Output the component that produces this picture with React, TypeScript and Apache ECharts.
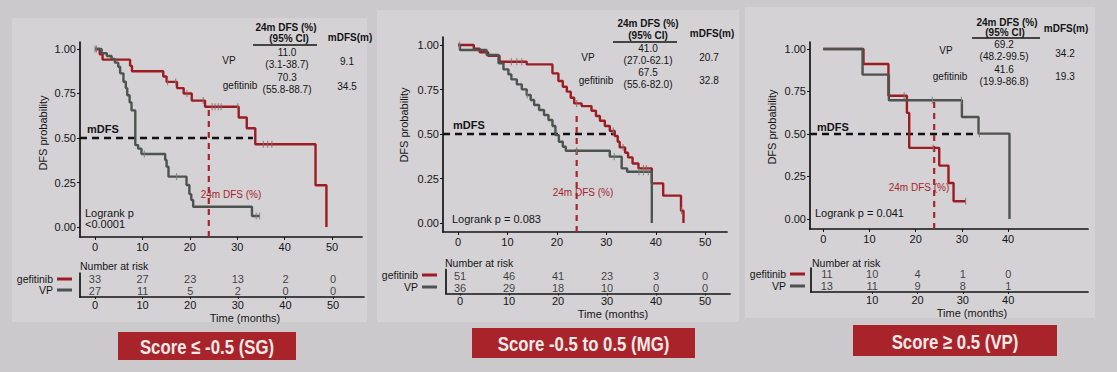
import React, { useEffect, useRef } from "react";
import * as echarts from "echarts";

const FONT = "'Liberation Sans', Arial, sans-serif";
const RED = "#9c1c22";
const GRAY = "#4d534e";
const INK = "#151515";

// ---------- Score <= -0.5 (SG)
const sgGefTimes = [0, 1.0, 1.6, 7.4, 7.8, 14.4, 15.1, 17.3, 18.7, 20.4, 23.2, 30.3, 32.0, 33.8, 46.5, 48.8];
const sgGefSurv = [1, 0.97, 0.94, 0.905, 0.875, 0.845, 0.815, 0.78, 0.75, 0.71, 0.675, 0.615, 0.555, 0.465, 0.235, 0];
const sgGefCensor = [0.3, 15.3, 17.0, 19.4, 22.8, 24.7, 25.3, 26.0, 26.6, 30.1, 35.5, 36.4, 37.3];
const sgVpTimes = [0, 1.4, 2.5, 3.5, 4.2, 4.9, 5.3, 6.0, 6.5, 6.8, 7.3, 7.7, 8.5, 9.1, 9.8, 14.8, 15.1, 15.5, 19.3, 19.9, 20.3, 20.7, 33.1];
const sgVpSurv = [1, 0.976, 0.96, 0.944, 0.923, 0.9, 0.863, 0.816, 0.78, 0.74, 0.7, 0.655, 0.46, 0.44, 0.41, 0.376, 0.339, 0.283, 0.236, 0.185, 0.152, 0.114, 0.062];
const sgVpCensor = [0, 10.4, 17.2, 34.0, 34.7];
const sgRiskTimes = [0, 10, 20, 30, 40, 50];
const sgRiskGef = [33, 27, 23, 13, 2, 0];
const sgRiskVp = [27, 11, 5, 2, 0, 0];
const sgTable = { vp: ["11.0", "(3.1-38.7)", "9.1"], gef: ["70.3", "(55.8-88.7)", "34.5"] };
const sgLogrank = ["Logrank p", "<0.0001"];
const sgTitle = "Score \u2264 -0.5 (SG)";

// ---------- Score -0.5 to 0.5 (MG)
const mgGefTimes = [0, 3.2, 4.4, 6.1, 8.4, 13.9, 19.1, 20.3, 21.2, 22.0, 22.8, 23.5, 25.0, 27.0, 27.9, 28.7, 29.7, 30.7, 31.7, 32.3, 32.7, 33.8, 34.4, 35.3, 36.5, 39.2, 41.5, 45.1, 45.6];
const mgGefSurv = [1, 0.979, 0.959, 0.94, 0.906, 0.891, 0.841, 0.798, 0.766, 0.738, 0.704, 0.672, 0.657, 0.631, 0.601, 0.575, 0.545, 0.517, 0.489, 0.457, 0.425, 0.395, 0.369, 0.335, 0.307, 0.223, 0.154, 0.069, 0];
const mgGefCensor = [0.3, 10.8, 11.9, 12.9, 24.0, 31.4, 33.4, 37.5, 38.1, 45.2];
const mgVpTimes = [0, 0.4, 5.8, 8.2, 9.2, 10.2, 10.8, 11.9, 12.9, 13.9, 14.7, 15.4, 16.4, 17.4, 18.3, 19.1, 19.7, 20.4, 21.2, 21.8, 30.7, 33.1, 34.2, 39.2];
const mgVpSurv = [1, 0.972, 0.944, 0.897, 0.863, 0.835, 0.807, 0.779, 0.751, 0.719, 0.691, 0.663, 0.635, 0.607, 0.579, 0.545, 0.494, 0.457, 0.429, 0.406, 0.373, 0.307, 0.288, 0];
const mgVpCensor = [14.0, 24.0, 31.6, 36.6, 37.5, 38.5];
const mgRiskTimes = [0, 10, 20, 30, 40, 50];
const mgRiskGef = [51, 46, 41, 23, 3, 0];
const mgRiskVp = [36, 29, 18, 10, 0, 0];
const mgTable = { vp: ["41.0", "(27.0-62.1)", "20.7"], gef: ["67.5", "(55.6-82.0)", "32.8"] };
const mgLogrank = ["Logrank p = 0.083"];
const mgTitle = "Score -0.5 to 0.5 (MG)";

// ---------- Score >= 0.5 (VP)
const vpGefTimes = [0, 8.7, 14.1, 18.1, 18.6, 25.1, 27.1, 28.2];
const vpGefSurv = [1, 0.912, 0.725, 0.624, 0.418, 0.314, 0.212, 0.104];
const vpGefCensor = [17.5, 23.8, 30.8];
const vpVpTimes = [0, 8.5, 14.2, 30.0, 33.6, 40.3];
const vpVpSurv = [1, 0.849, 0.698, 0.6, 0.502, 0];
const vpVpCensor = [23.6, 29.9, 33.8];
const vpRiskTimes = [0, 10, 20, 30, 40];
const vpRiskGef = [11, 10, 4, 1, 0];
const vpRiskVp = [13, 11, 9, 8, 1];
const vpRiskTickLabels = [10, 20, 30, 40];
const vpTable = { vp: ["69.2", "(48.2-99.5)", "34.2"], gef: ["41.6", "(19.9-86.8)", "19.3"] };
const vpLogrank = ["Logrank p = 0.041"];
const vpTitle = "Score \u2265 0.5 (VP)";

const kmTicks = [0, 10, 20, 30, 40, 50];
const kmTicks3 = [0, 10, 20, 30, 40];
const yTicks = [0, 0.25, 0.5, 0.75, 1];

function stepPoints(times: number[], surv: number[], censor: number[]) {
  const pts: number[][] = times.map((t, i) => [t, surv[i]]);
  const last = times[times.length - 1];
  const maxC = censor.length ? Math.max(...censor) : last;
  if (maxC > last) pts.push([maxC, surv[surv.length - 1]]);
  return pts;
}
function survAt(times: number[], surv: number[], t: number) {
  let s = surv[0];
  for (let i = 0; i < times.length; i++) if (times[i] <= t) s = surv[i];
  return s;
}

const panels = [
  {
    gef: [sgGefTimes, sgGefSurv, sgGefCensor], vp: [sgVpTimes, sgVpSurv, sgVpCensor],
    risk: [sgRiskTimes, sgRiskGef, sgRiskVp], kmTicks, riskTicks: sgRiskTimes,
    table: sgTable, logrank: sgLogrank, title: sgTitle, mdfsEnd: 33.3, vTop: 0.67,
    km: { left: 80, top: 42, width: 282, height: 195 }, xr: [-3.16, 56.3], yr: [-0.056, 1.039],
    rg: { left: 80, top: 273, width: 284, height: 24 }, rxr: [-3.15, 56.5],
    bg: [12, 18, 355, 304],
    lay: {
      h1: [286, 27], h2: [289, 38], ul: [253, 317, 45], mh: [350, 37],
      vpL: [229, 60], vpV: [287, 52], vpC: [287, 64], vpM: [347, 61],
      gfL: [240, 85], gfV: [287, 77], gfC: [287, 89], gfM: [347, 86],
      mdfs: [87, 129], dfs24: [231, 194], lr: [85, 213], yname: [43, 133],
      nar: [80, 266], rowG: [53, 279], rowV: [53, 290], time: [245, 318],
      box: [118, 332, 178, 28],
    },
  },
  {
    gef: [mgGefTimes, mgGefSurv, mgGefCensor], vp: [mgVpTimes, mgVpSurv, mgVpCensor],
    risk: [mgRiskTimes, mgRiskGef, mgRiskVp], kmTicks, riskTicks: mgRiskTimes,
    table: mgTable, logrank: mgLogrank, title: mgTitle, mdfsEnd: 31.7, vTop: 0.62,
    km: { left: 443, top: 37, width: 284, height: 195 }, xr: [-3.03, 54.4], yr: [-0.05, 1.045],
    rg: { left: 446, top: 269.5, width: 284, height: 24 }, rxr: [-2.86, 55.1],
    bg: [377, 10, 362, 312],
    lay: {
      h1: [648, 23], h2: [648, 35], ul: [613, 677, 42], mh: [712, 33],
      vpL: [588, 57], vpV: [648, 48], vpC: [648, 60], vpM: [709, 57],
      gfL: [596, 80], gfV: [648, 72], gfC: [648, 84], gfM: [709, 80],
      mdfs: [453, 125], dfs24: [583, 192], lr: [452, 219], yname: [404, 125],
      nar: [445, 263], rowG: [418, 275], rowV: [418, 287], time: [613, 314],
      box: [472, 328, 223, 30],
    },
  },
  {
    gef: [vpGefTimes, vpGefSurv, vpGefCensor], vp: [vpVpTimes, vpVpSurv, vpVpCensor],
    risk: [vpRiskTimes, vpRiskGef, vpRiskVp], kmTicks: kmTicks3, riskTicks: vpRiskTickLabels,
    table: vpTable, logrank: vpLogrank, title: vpTitle, mdfsEnd: 33.4, vTop: 0.71,
    km: { left: 810, top: 42, width: 278, height: 187 }, xr: [-2.88, 57.3], yr: [-0.059, 1.041],
    rg: { left: 811, top: 268, width: 277, height: 24 }, rxr: [-3.5, 57.6],
    bg: [745, 7, 350, 311],
    lay: {
      h1: [1007, 22], h2: [1005, 32], ul: [972, 1040, 38], mh: [1066, 28],
      vpL: [946, 50], vpV: [1004, 44], vpC: [1004, 56], vpM: [1065, 53],
      gfL: [950, 76], gfV: [1004, 69], gfC: [1004, 81], gfM: [1065, 76],
      mdfs: [817, 127], dfs24: [919, 187], lr: [815, 213], yname: [772, 127],
      nar: [812, 263], rowG: [786, 274], rowV: [786, 286], time: [972, 313],
      box: [853, 325, 204, 31],
    },
  },
];

function txt(x: number, y: number, text: string, o: any = {}) {
  return {
    type: "text", x, y, z: 20, rotation: o.rotation || 0, silent: true,
    style: {
      text, fill: o.fill || INK, fontSize: o.size || 10, fontFamily: FONT,
      fontWeight: o.weight || "normal", textAlign: o.align || "center", textVerticalAlign: "middle",
    },
  };
}

function buildOption() {
  const grid: any[] = [];
  const xAxis: any[] = [];
  const yAxis: any[] = [];
  const series: any[] = [];
  const graphic: any[] = [];

  panels.forEach((p, i) => {
    const gi = i * 2;
    const ri = i * 2 + 1;
    graphic.push({ type: "rect", z: -10, silent: true, shape: { x: p.bg[0], y: p.bg[1], width: p.bg[2], height: p.bg[3] }, style: { fill: "#d4d2d5" } });

    grid.push({ ...p.km, containLabel: false });
    grid.push({ ...p.rg, containLabel: false });
    const axLine = { show: true, lineStyle: { color: INK, width: 1.7 } };
    xAxis.push({
      type: "value", gridIndex: gi, min: p.xr[0], max: p.xr[1],
      axisLine: { ...axLine, onZero: false }, splitLine: { show: false },
      axisTick: { show: true, length: 3, customValues: p.kmTicks, lineStyle: { color: INK } },
      axisLabel: { customValues: p.kmTicks, color: INK, fontSize: 11, fontFamily: FONT, margin: 4 },
    });
    yAxis.push({
      type: "value", gridIndex: gi, min: p.yr[0], max: p.yr[1],
      axisLine: { ...axLine, onZero: false }, splitLine: { show: false },
      axisTick: { show: true, length: 3, customValues: yTicks, lineStyle: { color: INK } },
      axisLabel: { customValues: yTicks, color: INK, fontSize: 11, fontFamily: FONT, margin: 4, formatter: (v: number) => v.toFixed(2) },
    });
    xAxis.push({
      type: "value", gridIndex: ri, min: p.rxr[0], max: p.rxr[1],
      axisLine: { ...axLine, onZero: false }, splitLine: { show: false },
      axisTick: { show: true, length: 2, customValues: p.riskTicks, lineStyle: { color: INK } },
      axisLabel: { customValues: p.riskTicks, color: INK, fontSize: 11, fontFamily: FONT, margin: 2 },
    });
    yAxis.push({
      type: "category", gridIndex: ri, data: ["VP", "gefitinib"],
      axisLine: { ...axLine, onZero: false }, axisTick: { show: false }, axisLabel: { show: false }, splitLine: { show: false },
    });

    const [gt, gs, gc] = p.gef as number[][];
    const [vt, vs, vc] = p.vp as number[][];
    series.push({
      type: "line", xAxisIndex: gi, yAxisIndex: gi, step: "end", showSymbol: false, silent: true, z: 3,
      data: stepPoints(gt, gs, gc), lineStyle: { color: RED, width: 2.4 },
    });
    series.push({
      type: "line", xAxisIndex: gi, yAxisIndex: gi, step: "end", showSymbol: false, silent: true, z: 4,
      data: stepPoints(vt, vs, vc), lineStyle: { color: GRAY, width: 2.4 },
    });
    series.push({
      type: "scatter", xAxisIndex: gi, yAxisIndex: gi, symbol: "rect", symbolSize: [1.2, 7], silent: true, z: 5,
      data: gc.map((t) => [t, survAt(gt, gs, t)]), itemStyle: { color: "#8f6a6c" },
    });
    series.push({
      type: "scatter", xAxisIndex: gi, yAxisIndex: gi, symbol: "rect", symbolSize: [1.2, 7], silent: true, z: 5,
      data: vc.map((t) => [t, survAt(vt, vs, t)]), itemStyle: { color: "#7a807b" },
    });
    series.push({
      type: "line", xAxisIndex: gi, yAxisIndex: gi, showSymbol: false, silent: true, z: 2,
      data: [[p.xr[0], 0.5], [p.mdfsEnd, 0.5]], lineStyle: { color: "#111", width: 2.6, type: [7, 5] },
    });
    series.push({
      type: "line", xAxisIndex: gi, yAxisIndex: gi, showSymbol: false, silent: true, z: 2,
      data: [[24, p.yr[0]], [24, p.vTop]], lineStyle: { color: "#a8252b", width: 2.2, type: [6, 5] },
    });
    const [rt, rg, rv] = p.risk as number[][];
    const rdata: any[] = [];
    rt.forEach((t, j) => {
      rdata.push([t, "gefitinib", rg[j]]);
      rdata.push([t, "VP", rv[j]]);
    });
    series.push({
      type: "scatter", xAxisIndex: ri, yAxisIndex: ri, symbolSize: 1, silent: true,
      itemStyle: { color: "rgba(0,0,0,0)" }, data: rdata,
      label: { show: true, position: "inside", color: INK, fontSize: 11, fontFamily: FONT, formatter: (q: any) => String(q.value[2]) },
    });

    const L = p.lay;
    graphic.push(txt(L.h1[0], L.h1[1], "24m DFS (%)", { weight: "bold" }));
    graphic.push(txt(L.h2[0], L.h2[1], "(95% CI)", { weight: "bold" }));
    graphic.push({ type: "line", z: 20, silent: true, shape: { x1: L.ul[0], y1: L.ul[2], x2: L.ul[1], y2: L.ul[2] }, style: { stroke: INK, lineWidth: 1.5 } });
    graphic.push(txt(L.mh[0], L.mh[1], "mDFS(m)", { weight: "bold" }));
    graphic.push(txt(L.vpL[0], L.vpL[1], "VP"));
    graphic.push(txt(L.vpV[0], L.vpV[1], p.table.vp[0]));
    graphic.push(txt(L.vpC[0], L.vpC[1], p.table.vp[1]));
    graphic.push(txt(L.vpM[0], L.vpM[1], p.table.vp[2]));
    graphic.push(txt(L.gfL[0], L.gfL[1], "gefitinib"));
    graphic.push(txt(L.gfV[0], L.gfV[1], p.table.gef[0]));
    graphic.push(txt(L.gfC[0], L.gfC[1], p.table.gef[1]));
    graphic.push(txt(L.gfM[0], L.gfM[1], p.table.gef[2]));
    graphic.push(txt(L.mdfs[0], L.mdfs[1], "mDFS", { weight: "bold", size: 11, align: "left" }));
    graphic.push(txt(L.dfs24[0], L.dfs24[1], "24m DFS (%)", { fill: "#a3262b" }));
    p.logrank.forEach((s, k) => graphic.push(txt(L.lr[0], L.lr[1] + k * 11, s, { size: 11, align: "left" })));
    graphic.push(txt(L.yname[0], L.yname[1], "DFS probability", { size: 11, rotation: Math.PI / 2 }));
    graphic.push(txt(L.nar[0], L.nar[1], "Number at risk", { size: 10.5, align: "left" }));
    graphic.push(txt(L.rowG[0], L.rowG[1], "gefitinib", { size: 10.5, align: "right" }));
    graphic.push(txt(L.rowV[0], L.rowV[1], "VP", { size: 10.5, align: "right" }));
    graphic.push({ type: "rect", z: 20, silent: true, shape: { x: L.rowG[0] + 4, y: L.rowG[1] - 1.5, width: 15, height: 3 }, style: { fill: RED } });
    graphic.push({ type: "rect", z: 20, silent: true, shape: { x: L.rowV[0] + 4, y: L.rowV[1] - 1.5, width: 15, height: 3 }, style: { fill: GRAY } });
    graphic.push(txt(L.time[0], L.time[1], "Time (months)", { size: 11 }));
    const b = L.box;
    graphic.push({ type: "rect", z: 20, silent: true, shape: { x: b[0], y: b[1], width: b[2], height: b[3] }, style: { fill: "#a8242a" } });
    graphic.push({
      type: "text", z: 21, silent: true, x: b[0] + b[2] / 2, y: b[1] + b[3] / 2 + 1, scaleX: 0.8,
      style: { text: p.title, fill: "#f4e9e9", fontSize: 21, fontWeight: "bold", fontFamily: FONT, textAlign: "center", textVerticalAlign: "middle" },
    });
  });

  return { animation: false, backgroundColor: "#cbc9cc", grid, xAxis, yAxis, series, graphic };
}

export default function App() {
  const ref = useRef<HTMLDivElement>(null);
  useEffect(() => {
    document.body.style.margin = "0";
    if (!ref.current) return;
    const chart = echarts.init(ref.current, undefined, { renderer: "svg" });
    chart.setOption(buildOption() as any);
    return () => chart.dispose();
  }, []);
  return <div ref={ref} style={{ width: 1117, height: 372 }} />;
}
